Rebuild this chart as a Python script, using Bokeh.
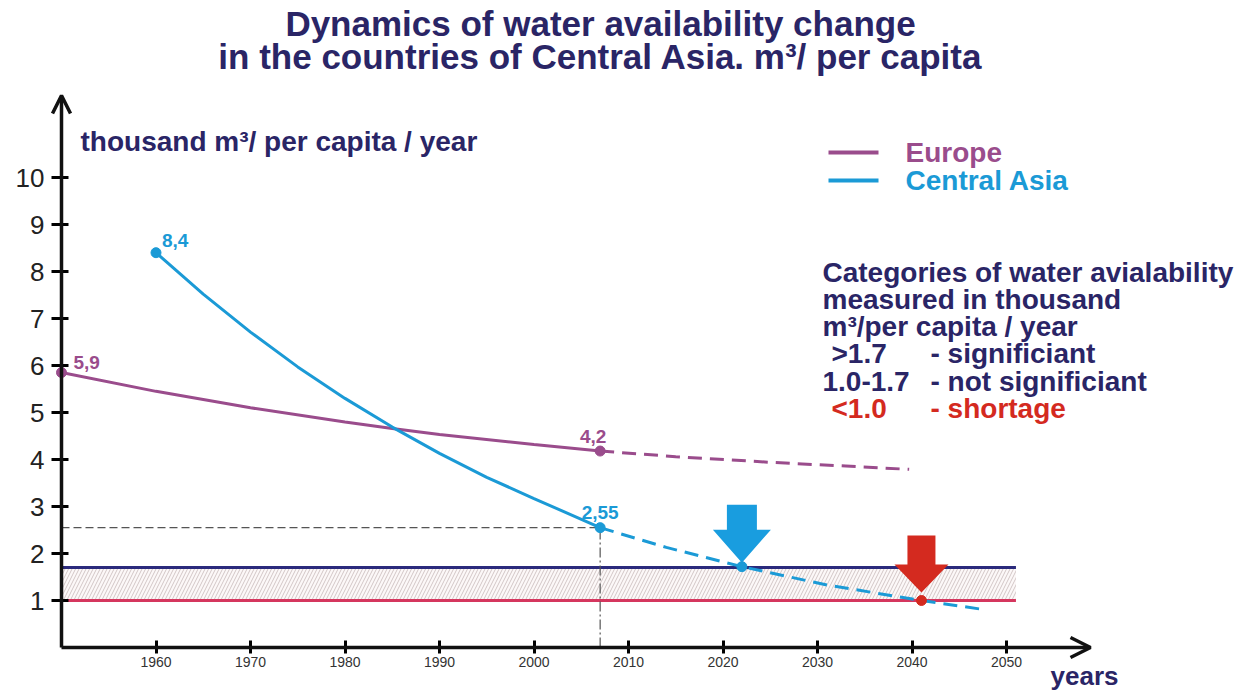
from bokeh.plotting import figure
from bokeh.models import Range1d, FixedTicker, Arrow, OpenHead, Label
from bokeh.core.properties import value
from bokeh.embed import file_html
from bokeh.resources import INLINE

# ---------------- data ----------------
eu_years = [1950, 1960, 1970, 1980, 1985, 1990, 2000, 2007]
eu_vals = [5.85, 5.45, 5.10, 4.80, 4.66, 4.53, 4.32, 4.18]
eu_fc_years = [2007, 2015, 2025, 2033, 2039.7]
eu_fc_vals = [4.18, 4.06, 3.94, 3.86, 3.79]

ca_years = [1960, 1965, 1970, 1975, 1980, 1985, 1990, 1995, 2000, 2007]
ca_vals = [8.4, 7.52, 6.71, 5.97, 5.30, 4.69, 4.13, 3.62, 3.17, 2.55]
ca_fc_years = [2007, 2014, 2022, 2031, 2041, 2047.5]
ca_fc_vals = [2.55, 2.13, 1.72, 1.33, 1.00, 0.81]

threshold_significant = 1.7
threshold_shortage = 1.0
band_years = [1950, 2051]

x_ticks = [1960, 1970, 1980, 1990, 2000, 2010, 2020, 2030, 2040, 2050]
y_ticks = [1, 2, 3, 4, 5, 6, 7, 8, 9, 10]

eu_label_pts = ([1950, 2007], [5.85, 4.18], ["5,9", "4,2"])
ca_label_pts = ([1960, 2007], [8.4, 2.55], ["8,4", "2,55"])

title_lines = ["Dynamics of water availability change",
               "in the countries of Central Asia. m\u00b3/ per capita"]
y_caption = "thousand m\u00b3/ per capita / year"
legend_names = ["Europe", "Central Asia"]
cat_lines = ["Categories of water avialability", "measured in thousand",
             "m\u00b3/per capita / year"]
cat_rows = [(">1.7", "- significiant"), ("1.0-1.7", "- not significiant"),
            ("<1.0", "- shortage")]

# ---------------- style ----------------
EU = "#9a4c8c"
CA = "#1b9ad6"
NAVY = "#2a2566"
LINE_NAVY = "#2b2a7c"
LINE_RED = "#d5365e"
RED = "#d42a1f"
ARROW_BLUE = "#199ddf"
FONT = value("Liberation Sans")

W, H = 1250, 690
PXX, PXY = 9.45, 47.0  # px per year, px per unit
x0 = 1950


def px_x(px):
    return x0 + (px - 61) / PXX


def px_y(py):
    return (647 - py) / PXY


p = figure(width=W, height=H, output_backend="svg", toolbar_location=None,
           x_range=Range1d(px_x(0), px_x(W)),
           y_range=Range1d(px_y(H), px_y(0)),
           min_border_left=0, min_border_right=0, min_border_top=0,
           min_border_bottom=0)
p.outline_line_color = None
p.grid.visible = False
p.background_fill_color = "white"

# axes (placed at the data origin)
for ax in p.xaxis:
    ax.fixed_location = 0
    ax.ticker = FixedTicker(ticks=x_ticks)
    ax.axis_line_color = None
    ax.major_tick_in = 7
    ax.major_tick_out = 6
    ax.major_tick_line_width = 3
    ax.minor_tick_line_color = None
    ax.major_label_text_font = "Liberation Sans"
    ax.major_label_text_font_size = "14px"
    ax.major_label_text_color = "#333333"
    ax.major_label_standoff = 3
for ax in p.yaxis:
    ax.fixed_location = x0
    ax.ticker = FixedTicker(ticks=y_ticks)
    ax.axis_line_color = None
    ax.major_tick_in = 7
    ax.major_tick_out = 10
    ax.major_tick_line_width = 3
    ax.minor_tick_line_color = None
    ax.major_label_text_font = "Liberation Sans"
    ax.major_label_text_font_size = "26px"
    ax.major_label_text_color = "#222222"
    ax.major_label_standoff = 7

p.add_layout(Arrow(end=OpenHead(size=18, line_width=3.5, line_color="#111111"),
                   x_start=x0, y_start=0, x_end=x0, y_end=px_y(95),
                   line_width=3.5, line_color="#111111"))
p.add_layout(Arrow(end=OpenHead(size=20, line_width=3.5, line_color="#111111"),
                   x_start=x0, y_start=0, x_end=px_x(1090), y_end=0,
                   line_width=3.5, line_color="#111111"))

# hatch band between thresholds
p.quad(left=[band_years[0]], right=[band_years[1]], bottom=[threshold_shortage],
       top=[threshold_significant], fill_color="#fcf8f8", line_color=None,
       hatch_pattern="/", hatch_color="#d2c6c6", hatch_scale=7, hatch_weight=1)
p.line(band_years, [threshold_significant] * 2, line_color=LINE_NAVY, line_width=3)
p.line(band_years, [threshold_shortage] * 2, line_color=LINE_RED, line_width=3)

# guides at 2007
p.line([x0, ca_fc_years[0]], [ca_fc_vals[0]] * 2, line_color="#555555",
       line_width=1.2, line_dash="8 4")
p.line([ca_fc_years[0]] * 2, [0, ca_fc_vals[0]], line_color="#555555",
       line_width=1.2, line_dash="10 3 2 3")

# curves
p.line(eu_years, eu_vals, line_color=EU, line_width=3)
p.line(eu_fc_years, eu_fc_vals, line_color=EU, line_width=3, line_dash="14 8")
p.line(ca_years, ca_vals, line_color=CA, line_width=3)
p.line(ca_fc_years, ca_fc_vals, line_color=CA, line_width=3, line_dash="14 8")


# block arrows at threshold crossings
def block_arrow(xc, yc, gap, head_h, head_hw, shaft_hw, shaft_h):
    tip = yc + gap / PXY
    hb = tip + head_h / PXY
    top = hb + shaft_h / PXY
    xs = [xc, xc - head_hw / PXX, xc - shaft_hw / PXX, xc - shaft_hw / PXX,
          xc + shaft_hw / PXX, xc + shaft_hw / PXX, xc + head_hw / PXX]
    ys = [tip, hb, hb, top, top, hb, hb]
    return xs, ys


bx, by = block_arrow(ca_fc_years[2], ca_fc_vals[2], 4, 33, 29, 15, 25)
p.patch(bx, by, fill_color=ARROW_BLUE, line_color=None)
rx, ry = block_arrow(ca_fc_years[4], ca_fc_vals[4], 8, 28, 27, 14, 29)
p.patch(rx, ry, fill_color=RED, line_color=None)

# markers
p.scatter(eu_label_pts[0], eu_label_pts[1], size=10, color=EU)
p.scatter([ca_years[0], ca_fc_years[0], ca_fc_years[2]],
          [ca_vals[0], ca_fc_vals[0], ca_fc_vals[2]], size=10, color=CA)
p.scatter([ca_fc_years[4]], [ca_fc_vals[4]], size=10, color=RED)

# point labels
p.text(eu_label_pts[0], eu_label_pts[1], text=eu_label_pts[2],
       x_offset=[12, -7], y_offset=[-10, -15], text_align=["left", "center"],
       text_baseline="middle", text_font=FONT, text_font_style="bold",
       text_font_size="19px", text_color=EU)
p.text(ca_label_pts[0], ca_label_pts[1], text=ca_label_pts[2],
       x_offset=[6, 0], y_offset=[-12, -15], text_align=["left", "center"],
       text_baseline="middle", text_font=FONT, text_font_style="bold",
       text_font_size="19px", text_color=CA)


# titles and texts
def label(x, y, txt, size, color, align="left", bold=True):
    p.add_layout(Label(x=x, y=y, text=txt, text_font="Liberation Sans",
                       text_font_size=size, text_color=color,
                       text_font_style="bold" if bold else "normal",
                       text_align=align, text_baseline="middle"))


label(px_x(600), px_y(23), title_lines[0], "35px", NAVY, "center")
label(px_x(600), px_y(56), title_lines[1], "35px", NAVY, "center")
label(px_x(80), px_y(141), y_caption, "28px", NAVY)

# legend
for i, (name, col) in enumerate(zip(legend_names, [EU, CA])):
    yy = px_y(152 + 28 * i)
    p.line([px_x(828), px_x(878)], [yy, yy], line_color=col, line_width=4)
    label(px_x(905), yy, name, "28px", col)

# categories block
for i, t in enumerate(cat_lines):
    label(px_x(822), px_y(272 + 27 * i), t, "28px", NAVY)
for i, (a, b) in enumerate(cat_rows):
    col = RED if i == 2 else NAVY
    ax_ = 822 if i == 1 else 831
    label(px_x(ax_), px_y(353 + 27.5 * i), a, "28px", col)
    label(px_x(930), px_y(353 + 27.5 * i), b, "28px", col)

label(px_x(1050), px_y(675), "years", "26px", NAVY)

open("out.html", "w").write(file_html(p, INLINE))
